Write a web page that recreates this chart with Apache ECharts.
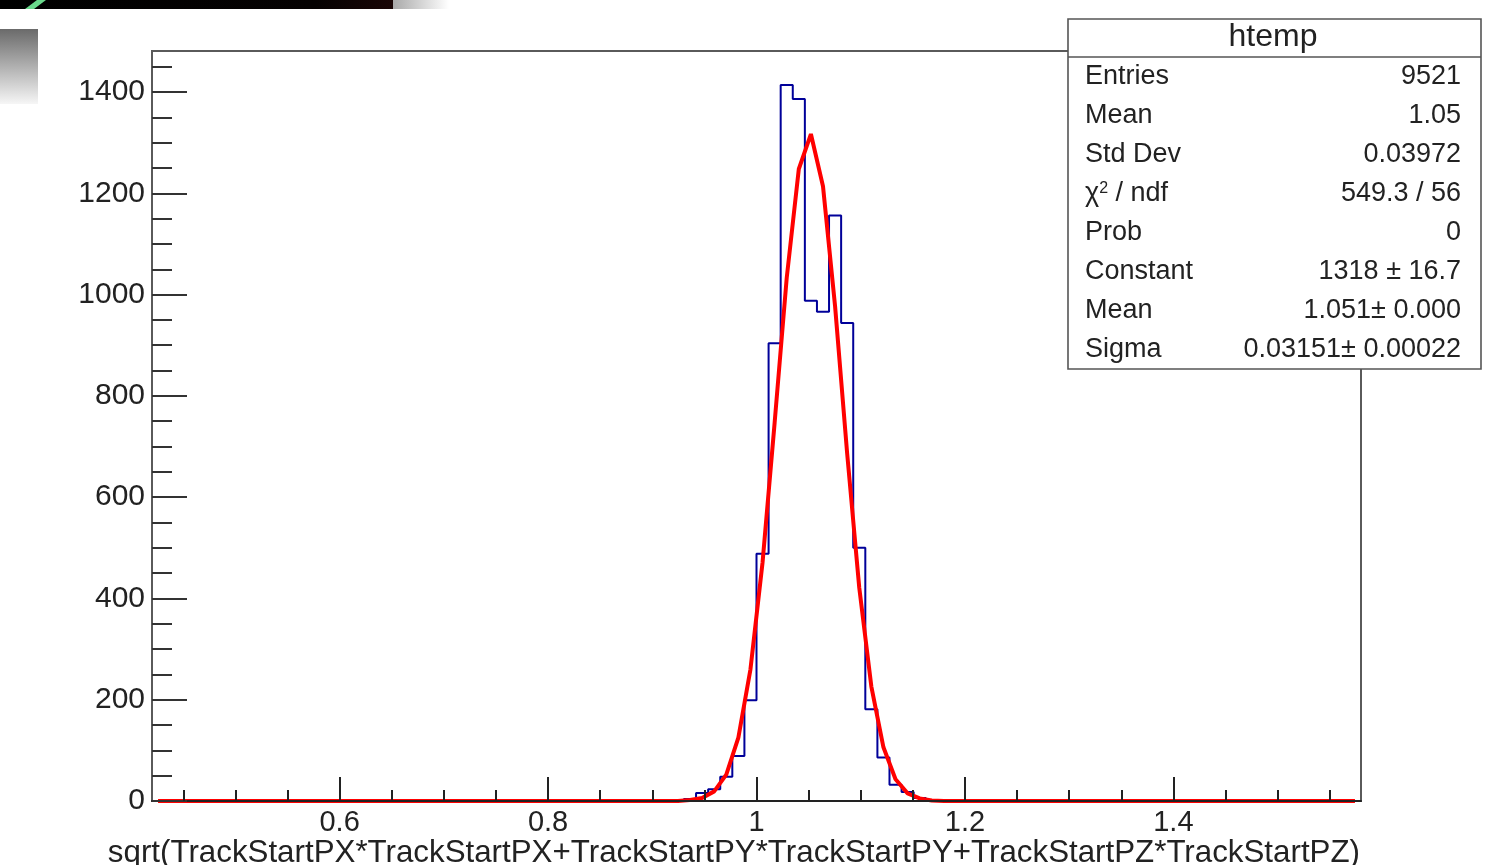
<!DOCTYPE html>
<html>
<head>
<meta charset="utf-8">
<title>htemp</title>
<script src="https://cdn.jsdelivr.net/npm/echarts@6/dist/echarts.min.js"></script>
<style>
  html, body { margin: 0; padding: 0; background: #ffffff; }
  #chart { width: 1501px; height: 865px; }
</style>
</head>
<body>
<div id="chart"></div>
<script>
// Histogram binning: 100 bins between X_MIN and X_MAX
const X_MIN = 0.42;
const X_MAX = 1.58;
const N_BINS = 100;
const Y_MAX = 1481;

// Bin contents (first filled bin index, then consecutive counts)
const firstFilledBin = 44;
const binCounts = [4, 16, 23, 48, 89, 199, 488, 904, 1414, 1386, 988, 966, 1156, 944, 500, 181, 86, 32, 18, 6];

// Gaussian fit curve sampled at bin centres (first sampled bin, then values)
const firstFitBin = 42;
const fitValues = [0, 0, 2, 6, 19, 52, 125, 260, 471, 747, 1033, 1248, 1317, 1214, 977, 686, 421, 226, 106, 43, 15, 5, 1, 0];

// Axis ticks and labels
const xLabelTicks = [0.6, 0.8, 1.0, 1.2, 1.4];
const xMinorTicks = [0.45, 0.5, 0.55, 0.65, 0.7, 0.75, 0.85, 0.9, 0.95, 1.05, 1.1, 1.15, 1.25, 1.3, 1.35, 1.45, 1.5, 1.55];
const yLabelTicks = [0, 200, 400, 600, 800, 1000, 1200, 1400];
const yMinorTicks = [50, 100, 150, 250, 300, 350, 450, 500, 550, 650, 700, 750, 850, 900, 950, 1050, 1100, 1150, 1250, 1300, 1350, 1450];

const xTitle = 'sqrt(TrackStartPX*TrackStartPX+TrackStartPY*TrackStartPY+TrackStartPZ*TrackStartPZ)';

// Statistics box
const statsTitle = 'htemp';
const statsLabels = ['Entries', 'Mean', 'Std Dev', 'χ{sup|2} / ndf', 'Prob', 'Constant', 'Mean', 'Sigma'];
const statsValues = ['9521', '1.05', '0.03972', '549.3 / 56', '0', '1318 ± 16.7', '1.051± 0.000', '0.03151± 0.00022'];

// ---- build series data ----
const binWidth = (X_MAX - X_MIN) / N_BINS;
const counts = new Array(N_BINS).fill(0);
binCounts.forEach((c, i) => { counts[firstFilledBin + i] = c; });
const fit = new Array(N_BINS).fill(0);
fitValues.forEach((v, i) => { fit[firstFitBin + i] = v; });

// step outline: one point per lower bin edge, plus the upper edge of the last bin
const histData = counts.map((c, k) => [X_MIN + k * binWidth, c]);
histData.push([X_MAX, counts[N_BINS - 1]]);
const fitData = fit.map((v, k) => [X_MIN + (k + 0.5) * binWidth, v]);

const FONT = '"Liberation Sans", Arial, Helvetica, sans-serif';
const TEXT = '#222222';
const FRAME = '#5a5a5a';

const G = { left: 152, top: 51, right: 140, bottom: 64 };

const rowY0 = 77, rowStep = 38.9;
const statsGraphic = {
  type: 'group', z: 100,
  children: [
    { type: 'rect', shape: { x: 1068, y: 19, width: 413, height: 350 },
      style: { fill: '#ffffff', stroke: '#555555', lineWidth: 1.6 } },
    { type: 'line', shape: { x1: 1068, y1: 57, x2: 1481, y2: 57 },
      style: { stroke: '#555555', lineWidth: 1.6 } },
    { type: 'text', x: 1273, y: 37,
      style: { text: statsTitle, font: '32px ' + FONT, fill: TEXT, align: 'center', verticalAlign: 'middle' } }
  ].concat(statsLabels.map((t, i) => ({
    type: 'text', x: 1085, y: rowY0 + i * rowStep,
    style: {
      text: t, fill: TEXT, align: 'left', verticalAlign: 'middle',
      font: '27px ' + FONT,
      rich: { sup: { fontSize: 16, fontFamily: FONT, verticalAlign: 'top', padding: [0, 0, 10, 0], fill: TEXT } }
    }
  }))).concat(statsValues.map((t, i) => ({
    type: 'text', x: 1461, y: rowY0 + i * rowStep,
    style: { text: t, font: '27px ' + FONT, fill: TEXT, align: 'right', verticalAlign: 'middle' }
  })))
};

// decorative window chrome in the top-left corner
const cornerGraphic = {
  type: 'group', z: 90, silent: true,
  children: [
    { type: 'rect', shape: { x: 0, y: 0, width: 394, height: 9 },
      style: { fill: { type: 'linear', x: 0, y: 0, x2: 1, y2: 0,
        colorStops: [{ offset: 0, color: '#000000' }, { offset: 0.8, color: '#050202' }, { offset: 1, color: '#1a0606' }] } } },
    { type: 'rect', shape: { x: 393, y: 0, width: 56, height: 9 },
      style: { fill: { type: 'linear', x: 0, y: 0, x2: 1, y2: 0,
        colorStops: [{ offset: 0, color: '#a9a9a9' }, { offset: 1, color: '#ffffff' }] } } },
    { type: 'polygon', shape: { points: [[25, 9], [34, 9], [46, 0], [37, 0]] },
      style: { fill: '#6ad98c' } },
    { type: 'rect', shape: { x: 0, y: 29, width: 38, height: 75 },
      style: { fill: { type: 'linear', x: 0, y: 0, x2: 0, y2: 1,
        colorStops: [{ offset: 0, color: '#6a6a6a' }, { offset: 1, color: '#f6f6f6' }] } } }
  ]
};

const chart = echarts.init(document.getElementById('chart'), null, { renderer: 'canvas' });

chart.setOption({
  animation: false,
  backgroundColor: '#ffffff',
  grid: {
    left: G.left, top: G.top, right: G.right, bottom: G.bottom,
    show: true, borderColor: FRAME, borderWidth: 2, backgroundColor: 'transparent'
  },
  xAxis: [
    {
      type: 'value', min: X_MIN, max: X_MAX, z: 5,
      splitLine: { show: false },
      axisLine: { show: true, onZero: false, lineStyle: { color: '#222222', width: 2 } },
      axisTick: { show: true, inside: true, length: 24, customValues: xLabelTicks,
        lineStyle: { color: '#222222', width: 2 } },
      axisLabel: {
        customValues: xLabelTicks, margin: 7,
        color: TEXT, fontSize: 29, fontFamily: FONT,
        formatter: v => String(parseFloat(v.toFixed(2)))
      }
    },
    {
      type: 'value', min: X_MIN, max: X_MAX, position: 'bottom', z: 5,
      splitLine: { show: false },
      axisLine: { show: false },
      axisTick: { show: true, inside: true, length: 11, customValues: xMinorTicks,
        lineStyle: { color: '#222222', width: 2 } },
      axisLabel: { show: false }
    }
  ],
  yAxis: [
    {
      type: 'value', min: 0, max: Y_MAX, z: 5,
      splitLine: { show: false },
      axisLine: { show: true, onZero: false, lineStyle: { color: FRAME, width: 2 } },
      axisTick: { show: true, inside: true, length: 35, customValues: yLabelTicks,
        lineStyle: { color: '#333333', width: 2 } },
      axisLabel: {
        customValues: yLabelTicks, margin: 7,
        color: TEXT, fontSize: 30, fontFamily: FONT,
        formatter: v => String(Math.round(v))
      }
    },
    {
      type: 'value', min: 0, max: Y_MAX, position: 'left', z: 5,
      splitLine: { show: false },
      axisLine: { show: false },
      axisTick: { show: true, inside: true, length: 20, customValues: yMinorTicks,
        lineStyle: { color: '#333333', width: 2 } },
      axisLabel: { show: false }
    }
  ],
  series: [
    {
      name: 'htemp', type: 'line', step: 'end',
      xAxisIndex: 0, yAxisIndex: 0,
      data: histData, symbol: 'none', z: 2,
      lineStyle: { color: '#000099', width: 2 }
    },
    {
      name: 'gaus', type: 'line',
      xAxisIndex: 0, yAxisIndex: 0,
      data: fitData, symbol: 'none', z: 3,
      lineStyle: { color: '#ff0000', width: 4 }
    }
  ],
  graphic: [
    { type: 'text', x: 1360, y: 853, z: 50,
      style: { text: xTitle, font: '31.3px ' + FONT, fill: TEXT, align: 'right', verticalAlign: 'middle' } },
    statsGraphic,
    cornerGraphic
  ]
});
</script>
</body>
</html>
